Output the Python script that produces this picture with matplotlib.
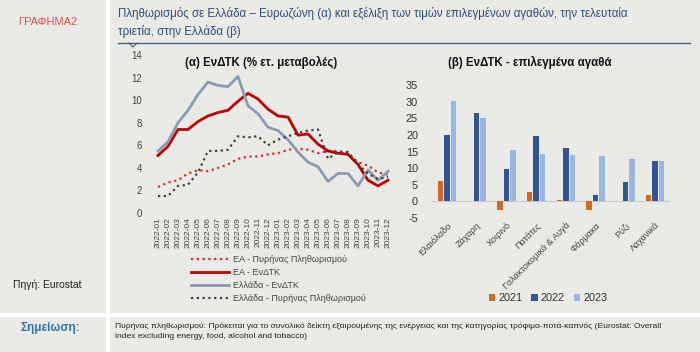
import matplotlib
matplotlib.use("Agg")
import matplotlib.pyplot as plt
from matplotlib.patches import Rectangle
from matplotlib.lines import Line2D
import numpy as np

plt.rcParams['font.family'] = ['Liberation Sans', 'DejaVu Sans']
plt.rcParams['axes.unicode_minus'] = False

# ---------------- data ----------------
months = ["2022-01", "2022-02", "2022-03", "2022-04", "2022-05", "2022-06",
          "2022-07", "2022-08", "2022-09", "2022-10", "2022-11", "2022-12",
          "2023-01", "2023-02", "2023-03", "2023-04", "2023-05", "2023-06",
          "2023-07", "2023-08", "2023-09", "2023-10", "2023-11", "2023-12"]
ea_core = [2.3, 2.7, 2.9, 3.5, 3.8, 3.7, 4.0, 4.3, 4.8, 5.0, 5.0, 5.2,
           5.3, 5.6, 5.7, 5.6, 5.3, 5.5, 5.5, 5.3, 4.5, 4.2, 3.6, 3.4]
ea_hicp = [5.1, 5.9, 7.4, 7.4, 8.1, 8.6, 8.9, 9.1, 9.9, 10.6, 10.1, 9.2,
           8.6, 8.5, 6.9, 7.0, 6.1, 5.5, 5.3, 5.2, 4.3, 2.9, 2.4, 2.9]
gr_hicp = [5.5, 6.3, 8.0, 9.1, 10.5, 11.6, 11.3, 11.2, 12.1, 9.5, 8.8, 7.6,
           7.3, 6.5, 5.4, 4.5, 4.1, 2.8, 3.5, 3.5, 2.4, 3.8, 2.9, 3.7]
gr_core = [1.5, 1.5, 2.4, 2.5, 3.6, 5.5, 5.5, 5.6, 6.8, 6.7, 6.8, 6.0,
           6.5, 6.8, 7.1, 7.3, 7.4, 4.8, 5.4, 5.4, 4.3, 3.5, 3.0, 3.2]
line_labels = ["ΕΑ - Πυρήνας Πληθωρισμού", "ΕΑ - ΕνΔΤΚ", "Ελλάδα - ΕνΔΤΚ",
               "Ελλάδα - Πυρήνας Πληθωρισμού"]

goods = ["Ελαιόλαδο", "Ζάχαρη", "Χοιρινό", "Πατάτες", "Γαλακτοκομικά & Αυγά",
         "Φάρμακα", "Ρύζι", "Λαχανικά"]
years = ["2021", "2022", "2023"]
v2021 = [6.2, 0.2, -2.5, 2.7, 0.4, -2.7, 0.2, 2.0]
v2022 = [20.1, 26.5, 9.8, 19.6, 16.1, 1.8, 5.7, 12.0]
v2023 = [30.1, 25.1, 15.6, 14.2, 13.9, 13.7, 12.8, 12.0]

W, H = 700, 352
fig = plt.figure(figsize=(7, 3.52), dpi=100)
fig.patch.set_facecolor('white')

BG = '#EAEAE7'

def fr(x0, y0, x1, y1):
    return [x0 / W, 1 - y1 / H, (x1 - x0) / W, (y1 - y0) / H]

def box(x0, y0, x1, y1, color=BG):
    fig.patches.append(Rectangle((x0 / W, 1 - y1 / H), (x1 - x0) / W, (y1 - y0) / H,
                                 transform=fig.transFigure, facecolor=color,
                                 edgecolor='none', zorder=-10))

def ftext(x, y, s, **kw):
    fig.text(x / W, 1 - y / H, s, **kw)

# panels
box(0, 0, 106, 313)
box(110, 0, 700, 313)
box(0, 317, 106, 352)
box(110, 317, 700, 352)

ftext(48, 22, "ΓΡΑΦΗΜΑ2", color='#E0504A', fontsize=8, ha='center', va='center')
ftext(47, 285, "Πηγή: Eurostat", color='#222222', fontsize=7.5, ha='center', va='center')
ftext(50, 328, "Σημείωση:", color='#2E74B5', fontsize=8.5, fontweight='bold',
      ha='center', va='center')
ftext(118, 13, "Πληθωρισμός σε Ελλάδα – Ευρωζώνη (α) και εξέλιξη των τιμών επιλεγμένων αγαθών, την τελευταία",
      color='#2F4D7A', fontsize=8.3, ha='left', va='center')
ftext(118, 32, "τριετία, στην Ελλάδα (β)", color='#2F4D7A', fontsize=8.3, ha='left', va='center')
fig.add_artist(Line2D([118 / W, 690 / W], [1 - 43 / H, 1 - 43 / H], color='#4A5F7A',
                      lw=1.0, transform=fig.transFigure))
fig.add_artist(Line2D([129 / W, 133 / W, 137 / W], [1 - 43 / H, 1 - 47 / H, 1 - 43 / H],
                      color='#4A5F7A', lw=0.8, transform=fig.transFigure))
ftext(115, 326, "Πυρήνας πληθωρισμού: Πρόκειται για το συνολικό δείκτη εξαιρουμένης της ενέργειας και της κατηγορίας τρόφιμα-ποτά-καπνός (Eurostat: Overall",
      color='#222222', fontsize=6.1, ha='left', va='center')
ftext(115, 337, "index excluding energy, food, alcohol and tobacco)",
      color='#222222', fontsize=6.1, ha='left', va='center')

# ---------------- left chart ----------------
ax1 = fig.add_axes(fr(153, 55, 393, 213))
ax1.set_facecolor('none')
x = np.arange(len(months))
l1, = ax1.plot(x, ea_core, color='#E02A2A', lw=1.6, ls=(0, (1, 1.6)))
l2, = ax1.plot(x, ea_hicp, color='#C00000', lw=2.0)
l3, = ax1.plot(x, gr_hicp, color='#8A9BB5', lw=2.0)
l4, = ax1.plot(x, gr_core, color='#3F3F3F', lw=1.6, ls=(0, (1, 1.6)))
ax1.set_xlim(-0.5, len(months) - 0.5)
ax1.set_ylim(0, 14)
ax1.set_yticks(np.arange(0, 15, 2))
ax1.set_xticks(x)
ax1.set_xticklabels(months, rotation=90, fontsize=6, color='#444444')
ax1.tick_params(axis='y', labelsize=7, colors='#444444', length=0, pad=8)
ax1.tick_params(axis='x', length=0, pad=3)
for s in ax1.spines.values():
    s.set_visible(False)
ftext(261, 62, "(α) ΕνΔΤΚ (% ετ. μεταβολές)", fontsize=8.3, fontweight='bold',
      ha='center', va='center', color='#111111')
fig.legend([l1, l2, l3, l4], line_labels, loc='upper left',
           bbox_to_anchor=(183 / W, 1 - 247 / H), frameon=False, fontsize=6.5,
           handlelength=4.2, labelspacing=0.45, handletextpad=0.4,
           labelcolor='#444444')

# ---------------- right chart ----------------
ax2 = fig.add_axes(fr(432, 85, 670, 218))
ax2.set_facecolor('none')
xg = np.arange(len(goods))
bw = 0.19
off = 0.22
colors = ['#D2691E', '#2F5597', '#9DB5E3']
bars = []
for i, (vals, c) in enumerate(zip([v2021, v2022, v2023], colors)):
    b = ax2.bar(xg + (i - 1) * off, vals, width=bw, color=c, zorder=3)
    bars.append(b)
ax2.axhline(0, color='#C8C8C8', lw=0.8, zorder=1)
ax2.set_xlim(-0.5, len(goods) - 0.5)
ax2.set_ylim(-5, 35)
ax2.set_yticks(np.arange(-5, 36, 5))
ax2.set_xticks(xg)
ax2.set_xticklabels(goods, rotation=45, ha='right', rotation_mode='anchor',
                    fontsize=6.5, color='#444444')
ax2.tick_params(axis='y', labelsize=7.8, colors='#333333', length=0, pad=10)
ax2.tick_params(axis='x', length=0, pad=2)
for s in ax2.spines.values():
    s.set_visible(False)
ftext(530, 62, "(β) ΕνΔΤΚ - επιλεγμένα αγαθά", fontsize=8.3, fontweight='bold',
      ha='center', va='center', color='#111111')
fig.legend([b[0] for b in bars], years, loc='center', ncol=3,
           bbox_to_anchor=(548 / W, 1 - 298 / H), frameon=False, fontsize=7.8,
           handlelength=0.6, handleheight=0.6, handletextpad=0.3, columnspacing=0.8,
           labelcolor='#333333')

fig.savefig("out.png", dpi=100, facecolor=fig.get_facecolor())
